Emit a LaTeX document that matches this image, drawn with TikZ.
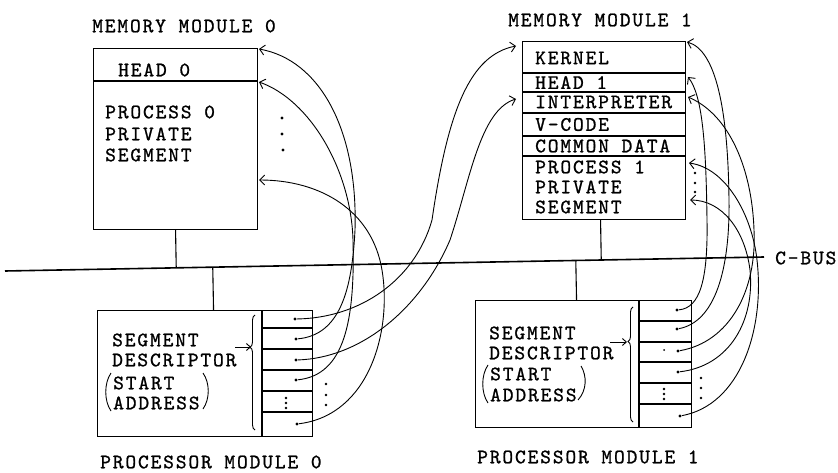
\documentclass[tikz,border=0pt]{standalone}
\usepackage{fontspec}
\newfontfamily\tw{lmmono10-regular}[Extension=.otf, LetterSpace=9, FakeBold=1]
\usetikzlibrary{arrows.meta,calc,decorations.pathreplacing}
\begin{document}
\begin{tikzpicture}[x=1pt,y=-1pt,
  box/.style={draw, line width=1.1pt, inner sep=0pt, anchor=north west},
  lbl/.style={font=\tw\fontsize{20.5}{21}\selectfont, inner sep=0pt, anchor=west},
  ptr/.style={line width=0.9pt, -{Straight Barb[length=5pt,width=10pt]}},
  small arrow/.style={line width=0.9pt, -{Straight Barb[length=4pt,width=7pt]}},
  dotn/.style={circle, fill, inner sep=0pt, minimum size=3.4pt},
  sdot/.style={circle, fill, inner sep=0pt, minimum size=2.8pt},
  rule/.style={line width=1.1pt},
  bracestyle/.style={decorate, line width=0.9pt},
]
\useasboundingbox (0,0) rectangle (838,473);

% ---------------- Memory module 0
\node[lbl] (tm0) at (92,26) {MEMORY MODULE 0};
\node[box, minimum width=164pt, minimum height=181pt] (m0) at (93,48) {};
\draw[rule] (93,81) -- (257,81);
\node[lbl] (h0) at (118,70) {HEAD 0};
\node[lbl] (pr0a) at (105,112) {PROCESS 0};
\node[lbl] (pr0b) at (105,134) {PRIVATE};
\node[lbl] (pr0c) at (105,155) {SEGMENT};
\node[sdot, minimum size=3.4pt] (md1) at (282,118) {};
\node[sdot, minimum size=3.4pt] (md2) at (282,134) {};
\node[sdot, minimum size=3.4pt] (md3) at (283,150) {};
\coordinate (t0a) at (259,49);
\coordinate (t0b) at (259,82);
\coordinate (t0c) at (259,180);

% ---------------- Memory module 1
\node[lbl] (tm1) at (508,20) {MEMORY MODULE 1};
\node[box, minimum width=163pt, minimum height=178pt] (m1) at (522,41) {};
\foreach \yy in {73,92,113,136,156} \draw[rule] (522,\yy) -- (685,\yy);
\node[lbl] (k1) at (535,58) {KERNEL};
\node[lbl] (h1) at (535,82.5) {HEAD 1};
\node[lbl] (i1) at (535,102) {INTERPRETER};
\node[lbl] (v1) at (535,124.5) {V-CODE};
\node[lbl] (c1) at (535,146) {COMMON DATA};
\node[lbl] (pr1a) at (535,167) {PROCESS 1};
\node[lbl] (pr1b) at (535,187) {PRIVATE};
\node[lbl] (pr1c) at (535,207) {SEGMENT};
\node[sdot] (nd1) at (695,173) {};
\node[sdot] (nd2) at (695,183) {};
\node[sdot] (nd3) at (695,192) {};
\coordinate (t1k) at (516,46);
\coordinate (t1i) at (516,99);
\coordinate (s1) at (687,42);
\coordinate (s2) at (688,77);
\coordinate (s3) at (688,97);
\coordinate (s4) at (689,163);
\coordinate (s5) at (690,200);

% ---------------- C-BUS
\coordinate (busL) at (5,271);
\coordinate (busR) at (764,257);
\draw[line width=1.6pt] (busL) -- (busR);
\node[lbl] (cbus) at (775,258) {C-BUS};

% ---------------- Processor module 0
\node[box, minimum width=215pt, minimum height=126pt] (p0) at (97,310) {};
\draw[rule] (262,310) -- (262,436);
\foreach \yy in {328,349,370,391,412} \draw[rule] (262,\yy) -- (312,\yy);
\node[lbl] (sg0) at (112,340) {SEGMENT};
\node[lbl] (ds0) at (112,360) {DESCRIPTOR};
\node[lbl] (st0) at (113,383) {START};
\node[lbl] (ad0) at (113,403) {ADDRESS};
\draw[line width=0.9pt] (111,373) .. controls (104,383) and (104,401) .. (111,411);
\draw[line width=0.9pt] (203,373) .. controls (210,383) and (210,399) .. (203,409);
\draw[bracestyle, decoration={brace, amplitude=5pt, aspect=0.72}] (255,430) -- (255,315);
\coordinate (a0s) at (235,347);
\coordinate (a0e) at (251,347);
\draw[small arrow] (a0s) -- (a0e);
\node[dotn] (d01) at (295,319) {};
\node[dotn] (d02) at (296,339) {};
\node[dotn] (d03) at (296,360) {};
\node[dotn] (d04) at (296,380) {};
\node[dotn] (d05) at (297,424) {};
\node[sdot] (pv1) at (286,398) {};
\node[sdot] (pv2) at (286,403) {};
\node[sdot] (pv3) at (286,408) {};
\node[sdot] (po1) at (326,384) {};
\node[sdot] (po2) at (326,395) {};
\node[sdot] (po3) at (326,405) {};
\node[lbl] (tp0) at (100,462) {PROCESSOR MODULE 0};

% ---------------- Processor module 1
\node[box, minimum width=216pt, minimum height=127pt] (p1) at (475,300) {};
\draw[rule] (639,300) -- (639,427);
\foreach \yy in {321,342,362,383,404} \draw[rule] (639,\yy) -- (691,\yy);
\node[lbl] (sg1) at (489,333) {SEGMENT};
\node[lbl] (ds1) at (489,353) {DESCRIPTOR};
\node[lbl] (st1) at (490,374) {START};
\node[lbl] (ad1) at (490,395) {ADDRESS};
\draw[line width=0.9pt] (488,365) .. controls (481,375) and (481,393) .. (488,403);
\draw[line width=0.9pt] (581,366) .. controls (587,376) and (587,390) .. (578,400);
\draw[bracestyle, decoration={brace, amplitude=5pt, aspect=0.7}] (633,422) -- (633,307);
\coordinate (a1s) at (610,342);
\coordinate (a1e) at (627,342);
\draw[small arrow] (a1s) -- (a1e);
\node[dotn] (e1) at (677,310) {};
\node[dotn] (e2) at (677,329) {};
\node[dotn] (e3) at (678,351) {};
\node[dotn] (e4) at (678,372) {};
\node[dotn] (e5) at (680,416) {};
\node[sdot, minimum size=2pt] (ex) at (664,350) {};
\node[sdot] (qv1) at (664,389) {};
\node[sdot] (qv2) at (664,394) {};
\node[sdot] (qv3) at (664,399) {};
\node[sdot] (qo1) at (701,378) {};
\node[sdot] (qo2) at (701,388) {};
\node[sdot] (qo3) at (701,398) {};
\node[lbl] (tp1) at (477,457) {PROCESSOR MODULE 1};

% ---------------- bus drops
\coordinate (m0d) at (m0.south);
\coordinate (p0d) at ([xshift=8.5pt]p0.north);
\coordinate (m1d) at ([xshift=-3.5pt]m1.south);
\coordinate (p1d) at ([xshift=-7pt]p1.north);
\draw[rule] (m0d) -- ($(busL)!(m0d)!(busR)$);
\draw[rule] (p0d) -- ($(busL)!(p0d)!(busR)$);
\draw[rule] (m1d) -- ($(busL)!(m1d)!(busR)$);
\draw[rule] (p1d) -- ($(busL)!(p1d)!(busR)$);

% ---------------- pointers of processor 0
\draw[ptr] (d01) .. controls (360,318) and (415,280) .. (432,220)
                 .. controls (448,110) and (470,55) .. (t1k);
\draw[ptr] (d03) .. controls (360,358) and (420,310) .. (450,240)
                 .. controls (470,180) and (480,110) .. (t1i);
\draw[ptr] (d02) .. controls (340,335) and (352,290) .. (355,230)
                 .. controls (358,130) and (320,60) .. (t0a);
\draw[ptr] (d04) .. controls (345,375) and (355,320) .. (353,240)
                 .. controls (351,170) and (310,100) .. (t0b);
\draw[ptr] (d05) .. controls (370,415) and (392,330) .. (382,270)
                 .. controls (372,210) and (320,180) .. (t0c);

% ---------------- pointers of processor 1
\draw[ptr] (e1) .. controls (700,308) and (708,280) .. (707,220)
                .. controls (706,140) and (702,95) .. (s2);
\draw[ptr] (e2) .. controls (715,322) and (730,270) .. (729,200)
                .. controls (728,110) and (716,50) .. (s1);
\draw[ptr] (e3) .. controls (730,342) and (757,290) .. (754,230)
                .. controls (752,170) and (730,115) .. (s3);
\draw[ptr] (e4) .. controls (730,366) and (755,320) .. (750,270)
                .. controls (745,230) and (722,200) .. (s5);
\draw[ptr] (e5) .. controls (740,405) and (765,330) .. (757,260)
                .. controls (752,215) and (726,168) .. (s4);
\end{tikzpicture}
\end{document}
